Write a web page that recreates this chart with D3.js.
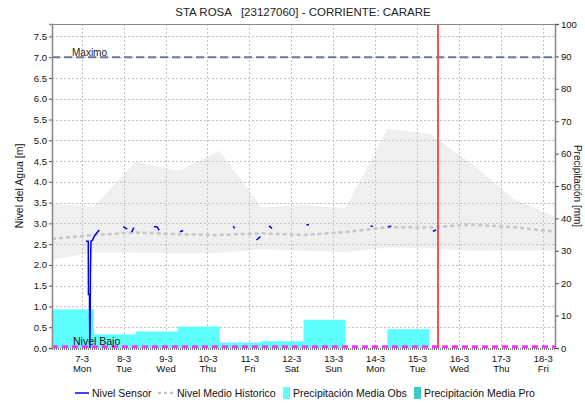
<!DOCTYPE html>
<html>
<head>
<meta charset="utf-8">
<script src="https://cdn.jsdelivr.net/npm/d3@7"></script>
<style>
  body { margin: 0; background: #fff; }
  text { font-family: "Liberation Sans", Arial, sans-serif; }
</style>
</head>
<body>
<svg id="chart" width="585" height="403"></svg>
<script>
// ---- data ----
const stationTitle = "STA ROSA   [23127060] - CORRIENTE: CARARE";
const rangeStart = "06/03/2022 07:00";
const rangeEnd = "18/03/2022 07:00";
const nowTime = "15/03/2022 12:00";

const dayTicks = ["07/03/2022 00:00", "08/03/2022 00:00", "09/03/2022 00:00", "10/03/2022 00:00",
  "11/03/2022 00:00", "12/03/2022 00:00", "13/03/2022 00:00", "14/03/2022 00:00",
  "15/03/2022 00:00", "16/03/2022 00:00", "17/03/2022 00:00", "18/03/2022 00:00"];

const levelTicks = [0, 0.5, 1, 1.5, 2, 2.5, 3, 3.5, 4, 4.5, 5, 5.5, 6, 6.5, 7, 7.5];
const rainTicks = [0, 10, 20, 30, 40, 50, 60, 70, 80, 90, 100];

// 24 h accumulations, each starting at 07:00 of the listed day
const precipStart = ["06/03/2022 07:00", "07/03/2022 07:00", "08/03/2022 07:00", "09/03/2022 07:00",
  "10/03/2022 07:00", "11/03/2022 07:00", "12/03/2022 07:00", "13/03/2022 07:00", "14/03/2022 07:00"];
const precipObs = [11.9, 4.2, 5.1, 6.6, 1.7, 2.1, 8.7, 0.0, 5.8];
const forecastStart = ["15/03/2022 07:00", "16/03/2022 07:00", "17/03/2022 07:00"];
const precipPro = [0.0, 0.0, 0.0];

// historical statistics, daily at 07:00
const histTimes = ["06/03/2022 07:00", "07/03/2022 07:00", "08/03/2022 07:00", "09/03/2022 07:00",
  "10/03/2022 07:00", "11/03/2022 07:00", "12/03/2022 07:00", "13/03/2022 07:00", "14/03/2022 07:00",
  "15/03/2022 07:00", "16/03/2022 07:00", "17/03/2022 07:00", "18/03/2022 07:00"];
const histHigh = [3.47, 3.40, 4.49, 4.26, 4.75, 3.38, 3.44, 3.36, 5.28, 5.16, 4.45, 3.60, 3.16];
const histLow  = [2.13, 2.30, 2.30, 2.28, 2.29, 2.38, 2.34, 2.31, 2.42, 2.40, 2.34, 2.35, 2.35];
const histMean = [2.63, 2.72, 2.78, 2.74, 2.72, 2.76, 2.72, 2.79, 2.91, 2.90, 2.97, 2.91, 2.80];

// sensor readings; null marks a gap in transmission
const sensorTimes = [
  "07/03/2022 02:28", "07/03/2022 03:46", "07/03/2022 03:52", "07/03/2022 04:28", "07/03/2022 04:38",
  "07/03/2022 04:52", "07/03/2022 05:02", "07/03/2022 05:19", "07/03/2022 06:17", "07/03/2022 07:02",
  "07/03/2022 08:35", "07/03/2022 10:04", "07/03/2022 12:00",
  "07/03/2022 23:47", "08/03/2022 02:04", "08/03/2022 03:00",
  "08/03/2022 04:35", "08/03/2022 05:54", "08/03/2022 07:00",
  "08/03/2022 17:20", "08/03/2022 19:04", "08/03/2022 20:22", "08/03/2022 22:00",
  "09/03/2022 08:12", "09/03/2022 10:06", "09/03/2022 12:00",
  "10/03/2022 14:41", "10/03/2022 15:40", "10/03/2022 17:00",
  "11/03/2022 04:04", "11/03/2022 06:21", "11/03/2022 08:00",
  "11/03/2022 11:16", "11/03/2022 12:59", "11/03/2022 14:00",
  "12/03/2022 08:40", "12/03/2022 10:09", "12/03/2022 12:00",
  "13/03/2022 21:24", "13/03/2022 22:44", "14/03/2022 00:00",
  "14/03/2022 07:18", "14/03/2022 09:16", "14/03/2022 10:00",
  "15/03/2022 09:03", "15/03/2022 11:00"];
const sensorLevel = [
  2.57, 2.57, 1.29, 1.29, 0.00,
  0.66, 1.95, 2.57, 2.60, 2.68,
  2.77, 2.84, null,
  2.92, 2.86, null,
  2.79, 2.90, null,
  2.92, 2.92, 2.83, null,
  2.80, 2.83, null,
  2.93, 2.88, null,
  2.60, 2.68, null,
  2.94, 2.88, null,
  2.97, 2.97, null,
  2.93, 2.93, null,
  2.91, 2.94, null,
  2.81, 2.84];

const levelMax = 7.0;
const levelLow = 0.03;

// ---- scales ----
const parse = d3.timeParse("%d/%m/%Y %H:%M");
const plotLeft = 52, plotRight = 555, plotTop = 24, plotBottom = 348;

const x = d3.scaleTime().domain([parse(rangeStart), parse(rangeEnd)]).range([plotLeft, plotRight]);
const yL = d3.scaleLinear().domain([0, 7.8]).range([plotBottom, plotTop]);
const yR = d3.scaleLinear().domain([0, 100]).range([plotBottom, plotTop]);

const svg = d3.select("#chart");

// ---- historical band ----
const hist = histTimes.map((t, i) => ({ t: parse(t), lo: histLow[i], hi: histHigh[i], mean: histMean[i] }));
svg.append("path")
  .datum(hist)
  .attr("fill", "#efefef")
  .attr("d", d3.area().x(d => x(d.t)).y0(d => yL(d.lo)).y1(d => yL(d.hi)));

// ---- grid ----
const grid = svg.append("g").attr("stroke", "#c2c2c2").attr("stroke-dasharray", "2,2").attr("stroke-width", 1);
grid.selectAll("line.h").data(levelTicks.filter(v => v > 0)).join("line")
  .attr("x1", plotLeft).attr("x2", plotRight)
  .attr("y1", d => Math.round(yL(d)) + 0.5).attr("y2", d => Math.round(yL(d)) + 0.5);
grid.selectAll("line.v").data(dayTicks).join("line")
  .attr("x1", d => Math.round(x(parse(d))) + 0.5).attr("x2", d => Math.round(x(parse(d))) + 0.5)
  .attr("y1", plotTop).attr("y2", plotBottom);

// ---- precipitation bars ----
const dayMs = 24 * 3600 * 1000;
svg.append("g").selectAll("rect").data(precipObs.map((v, i) => ({ t: parse(precipStart[i]), v })))
  .join("rect")
  .attr("fill", "#5cfefe")
  .attr("x", d => x(d.t))
  .attr("width", d => x(new Date(+d.t + dayMs)) - x(d.t))
  .attr("y", d => yR(d.v))
  .attr("height", d => plotBottom - yR(d.v));
svg.append("g").selectAll("rect").data(precipPro.map((v, i) => ({ t: parse(forecastStart[i]), v })))
  .join("rect")
  .attr("fill", "#40c8c8")
  .attr("x", d => x(d.t))
  .attr("width", d => Math.min(x(new Date(+d.t + dayMs)), plotRight) - x(d.t))
  .attr("y", d => yR(d.v))
  .attr("height", d => plotBottom - yR(d.v));

// ---- historical mean ----
svg.append("path")
  .datum(hist)
  .attr("fill", "none")
  .attr("stroke", "#c6c6c6")
  .attr("stroke-width", 2.5)
  .attr("stroke-dasharray", "4,3")
  .attr("d", d3.line().x(d => x(d.t)).y(d => yL(d.mean)));

// ---- thresholds ----
svg.append("line")
  .attr("x1", plotLeft).attr("x2", plotRight)
  .attr("y1", yL(levelMax)).attr("y2", yL(levelMax))
  .attr("stroke", "#6a779f").attr("stroke-width", 2).attr("stroke-dasharray", "8,4");
svg.append("text").attr("x", 72).attr("y", yL(levelMax) - 1)
  .attr("font-size", 10).attr("fill", "#222").text("Maximo");

svg.append("line")
  .attr("x1", plotLeft).attr("x2", plotRight)
  .attr("y1", yL(levelLow)).attr("y2", yL(levelLow))
  .attr("stroke", "#ff33ff").attr("stroke-width", 3).attr("stroke-dasharray", "6,4");
svg.append("text").attr("x", 73).attr("y", yL(levelLow) - 2)
  .attr("font-size", 10.5).attr("fill", "#111").text("Nivel Bajo");

// ---- sensor ----
const sensor = sensorTimes.map((t, i) => ({ t: parse(t), v: sensorLevel[i] }));
svg.append("path")
  .datum(sensor)
  .attr("fill", "none")
  .attr("stroke", "#0000ff")
  .attr("stroke-width", 1.5)
  .attr("d", d3.line().defined(d => d.v !== null).x(d => x(d.t)).y(d => yL(d.v)));

// ---- current time ----
svg.append("line")
  .attr("x1", x(parse(nowTime))).attr("x2", x(parse(nowTime)))
  .attr("y1", plotTop).attr("y2", plotBottom)
  .attr("stroke", "#ff4040").attr("stroke-width", 1.8);

// ---- frame and axes ----
svg.append("line").attr("x1", plotLeft).attr("x2", plotRight).attr("y1", plotTop + 0.5).attr("y2", plotTop + 0.5)
  .attr("stroke", "#888").attr("stroke-width", 1);
svg.append("line").attr("x1", plotLeft).attr("x2", plotRight).attr("y1", plotBottom + 1).attr("y2", plotBottom + 1)
  .attr("stroke", "#000").attr("stroke-width", 1.2).attr("stroke-dasharray", "1,1");

const axL = svg.append("g").attr("transform", `translate(${plotLeft},0)`)
  .call(d3.axisLeft(yL).tickValues(levelTicks).tickFormat(d3.format(".1f")).tickSize(3).tickPadding(2));
const axR = svg.append("g").attr("transform", `translate(${plotRight},0)`)
  .call(d3.axisRight(yR).tickValues(rainTicks).tickSize(4).tickPadding(2));
[axL, axR].forEach(a => {
  a.select(".domain").attr("stroke", "#8c8c8c").attr("stroke-width", 1.6);
  a.selectAll(".tick line").attr("stroke", "#555");
  a.selectAll(".tick text").attr("font-size", 9.5).attr("fill", "#111")
    .style("font-family", "'Liberation Sans', Arial, sans-serif");
});

const axB = svg.append("g").attr("transform", `translate(0,${plotBottom})`)
  .call(d3.axisBottom(x).tickValues(dayTicks.map(parse)).tickSize(0).tickPadding(7)
    .tickFormat(d3.timeFormat("%-d-%-m")));
axB.select(".domain").remove();
axB.selectAll(".tick text").attr("font-size", 9.5).attr("fill", "#111")
  .style("font-family", "'Liberation Sans', Arial, sans-serif");
axB.selectAll(".tick").append("text")
  .attr("y", 24).attr("fill", "#111").attr("font-size", 9.5)
  .style("font-family", "'Liberation Sans', Arial, sans-serif")
  .text(d => d3.timeFormat("%a")(d));

// ---- titles ----
svg.append("text").attr("x", 303).attr("y", 16).attr("text-anchor", "middle")
  .attr("font-size", 11.5).attr("fill", "#222").attr("xml:space", "preserve")
  .style("white-space", "pre").text(stationTitle);
svg.append("text").attr("transform", `translate(23,${(plotTop + plotBottom) / 2}) rotate(-90)`)
  .attr("text-anchor", "middle").attr("font-size", 10.5).attr("fill", "#111")
  .text("Nivel del Agua [m]");
svg.append("text").attr("transform", `translate(574,${(plotTop + plotBottom) / 2}) rotate(90)`)
  .attr("text-anchor", "middle").attr("font-size", 10).attr("fill", "#111")
  .text("Precipitación [mm]");

// ---- legend ----
const lg = svg.append("g").attr("font-size", 10.5).attr("fill", "#111");
const ly = 393;
lg.append("line").attr("x1", 75).attr("x2", 89).attr("y1", ly).attr("y2", ly)
  .attr("stroke", "#0000ff").attr("stroke-width", 1.5);
lg.append("text").attr("x", 92).attr("y", ly + 4).text("Nivel Sensor");
lg.append("line").attr("x1", 158).attr("x2", 174).attr("y1", ly).attr("y2", ly)
  .attr("stroke", "#c6c6c6").attr("stroke-width", 2.5).attr("stroke-dasharray", "3,3");
lg.append("text").attr("x", 177).attr("y", ly + 4).text("Nivel Medio Historico");
lg.append("rect").attr("x", 283).attr("y", ly - 6).attr("width", 7).attr("height", 12).attr("fill", "#5cfefe");
lg.append("text").attr("x", 293).attr("y", ly + 4).text("Precipitación Media Obs");
lg.append("rect").attr("x", 414).attr("y", ly - 6).attr("width", 7).attr("height", 12).attr("fill", "#40c8c8");
lg.append("text").attr("x", 424).attr("y", ly + 4).text("Precipitación Media Pro");
</script>
</body>
</html>
